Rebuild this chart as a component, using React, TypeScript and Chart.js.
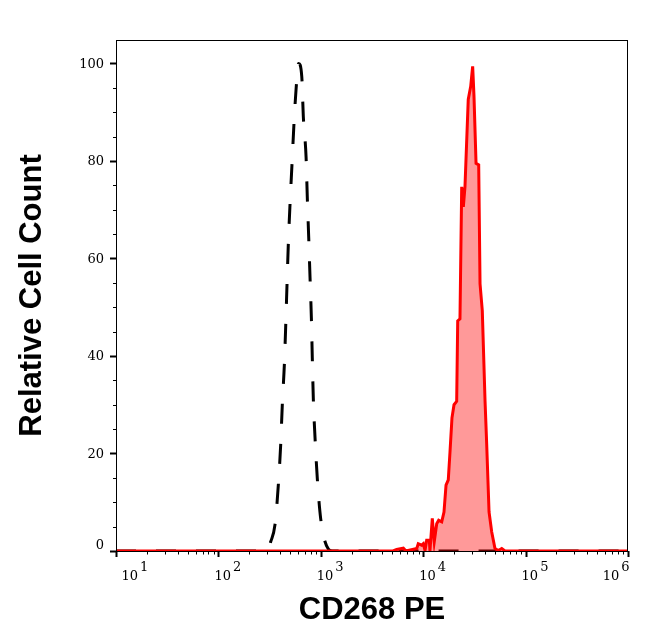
import { Chart, registerables } from "chart.js";
import { useEffect, useRef } from "react";

Chart.register(...registerables);

// isotype control (dashed black): fluorescence intensity vs relative count
const controlX = [10, 300, 324, 357, 385, 406, 421, 441, 455, 468, 482, 501, 524, 545, 573, 607, 652, 675, 718, 738, 762, 785, 809, 826, 845, 879, 925, 998, 1186, 1300, 1000000];
const controlY = [0, 0, 1.9, 5.4, 13.6, 21.9, 30.1, 38.4, 46.6, 54.8, 63.1, 71.3, 79.6, 87, 94.6, 100, 97.3, 89.1, 80.8, 72.6, 64.3, 56.1, 47.8, 39.6, 31.3, 23.1, 14.8, 6.6, 0.4, 0, 0];

// CD268 PE stained sample (filled red)
const stainedX = [10, 5070, 5510, 6400, 6790, 8650, 8950, 9660, 10020, 10420, 10810, 11480, 11640, 12270, 12820, 13550, 14160, 15170, 15960, 16710, 17580, 18280, 19100, 20000, 21230, 21730, 22860, 23770, 24660, 25590, 27540, 29110, 30410, 31330, 32810, 34830, 35890, 37760, 40180, 41690, 43950, 46670, 50230, 54080, 58480, 62950, 1000000];
const stainedY = [0, 0, 0.3, 0.6, 0, 0.5, 1.5, 1.2, 1.5, 0.1, 2.2, 2.2, 0, 6.7, 1.9, 5.6, 6.3, 6.0, 8, 13.5, 14.6, 20.4, 27.3, 30, 30.7, 47.2, 47.6, 74.7, 70.6, 74.7, 92.6, 95.3, 99.4, 93.3, 79.5, 79.2, 54.8, 49.3, 30.7, 21.9, 8, 3.9, 0.5, 0.1, 0.5, 0, 0];

const xDecades = [1, 2, 3, 4, 5, 6];
const yMajorTicks = [0, 20, 40, 60, 80, 100];
const yMinorTicks = [5, 10, 15, 25, 30, 35, 45, 50, 55, 65, 70, 75, 85, 90, 95];

const TICK_FONT = "13px 'DejaVu Serif', serif";
const TITLE_FONT = "'Liberation Sans', Arial, sans-serif";

const axesPlugin = {
  id: "flowAxes",
  afterDraw(chart: Chart) {
    const { ctx, chartArea: a } = chart;
    const xs = chart.scales.x;
    const ys = chart.scales.y;
    ctx.save();
    ctx.strokeStyle = "#000";
    ctx.fillStyle = "#000";
    ctx.lineWidth = 1;
    ctx.strokeRect(a.left + 0.5, a.top + 0.5, a.right - a.left - 1, a.bottom - a.top);

    // x ticks, minor at 2..9 of each decade
    for (const n of xDecades) {
      for (let m = 1; m < 10; m++) {
        if (n === 6 && m > 1) break;
        const px = Math.round(xs.getPixelForValue(m * Math.pow(10, n))) + 0.5;
        ctx.lineWidth = m === 1 ? 2 : 1;
        ctx.beginPath();
        ctx.moveTo(px, a.bottom);
        ctx.lineTo(px, a.bottom + (m === 1 ? 6 : 3.5));
        ctx.stroke();
      }
    }
    // y ticks
    for (const v of yMajorTicks) {
      const py = Math.round(ys.getPixelForValue(v)) + 0.5;
      ctx.lineWidth = 2;
      ctx.beginPath();
      ctx.moveTo(a.left - 6, py);
      ctx.lineTo(a.left, py);
      ctx.stroke();
    }
    for (const v of yMinorTicks) {
      const py = Math.round(ys.getPixelForValue(v)) + 0.5;
      ctx.lineWidth = 1;
      ctx.beginPath();
      ctx.moveTo(a.left - 3, py);
      ctx.lineTo(a.left, py);
      ctx.stroke();
    }

    // y labels
    ctx.font = TICK_FONT;
    ctx.textAlign = "right";
    ctx.textBaseline = "middle";
    for (const v of yMajorTicks) {
      const py = ys.getPixelForValue(v);
      ctx.fillText(String(v), a.left - 12, Math.min(py + 1, a.bottom - 5));
    }

    // x labels: 10 with superscript exponent
    ctx.textAlign = "left";
    ctx.textBaseline = "alphabetic";
    for (const n of xDecades) {
      const px = xs.getPixelForValue(Math.pow(10, n));
      const wBase = ctx.measureText("10").width;
      const wExp = ctx.measureText(String(n)).width;
      const w = wBase + 2 + wExp;
      let x0 = px - 4;
      x0 = Math.max(x0, a.left + 5.5);
      x0 = Math.min(x0, a.right + 1.5 - w);
      ctx.fillText("10", x0, a.bottom + 29);
      ctx.fillText(String(n), x0 + wBase + 2, a.bottom + 19.5);
    }
    ctx.restore();
  },
};

export default function App() {
  const ref = useRef<HTMLCanvasElement>(null);

  useEffect(() => {
    if (!ref.current) return;
    const chart = new Chart(ref.current, {
      type: "line",
      data: {
        datasets: [
          {
            label: "Isotype",
            data: controlX.map((x, i) => ({ x, y: controlY[i] })),
            borderColor: "#000",
            borderWidth: 3,
            borderDash: [20, 20],
            borderCapStyle: "butt",
            pointRadius: 0,
            fill: false,
            cubicInterpolationMode: "monotone",
            order: 2,
          },
          {
            label: "CD268 PE",
            data: stainedX.map((x, i) => ({ x, y: stainedY[i] })),
            borderColor: "#ff0000",
            backgroundColor: "rgba(255,0,0,0.4)",
            borderWidth: 3,
            pointRadius: 0,
            fill: "origin",
            tension: 0,
            order: 1,
          },
        ],
      },
      options: {
        responsive: true,
        maintainAspectRatio: false,
        animation: false,
        layout: { padding: { top: 32, right: 16, left: 0, bottom: 0 } },
        plugins: { legend: { display: false }, tooltip: { enabled: false } },
        scales: {
          x: {
            type: "logarithmic",
            min: 10,
            max: 1000000,
            grid: { display: false },
            border: { display: false },
            ticks: { display: false },
            title: {
              display: true,
              text: "CD268 PE",
              color: "#000",
              font: { family: TITLE_FONT, size: 31, weight: "bold" },
              padding: { top: 0, bottom: 4 },
            },
            afterFit: (s: any) => {
              s.height = 82;
            },
          },
          y: {
            min: 0,
            max: 104.8,
            grid: { display: false },
            border: { display: false },
            ticks: { display: false },
            title: {
              display: true,
              text: "Relative Cell Count",
              color: "#000",
              font: { family: TITLE_FONT, size: 31, weight: "bold" },
              padding: { top: 6, bottom: 0 },
            },
            afterFit: (s: any) => {
              s.width = 108;
            },
          },
        },
      },
      plugins: [axesPlugin],
    });
    return () => chart.destroy();
  }, []);

  return (
    <div style={{ width: 636, height: 625, position: "relative" }}>
      <canvas ref={ref} />
    </div>
  );
}
